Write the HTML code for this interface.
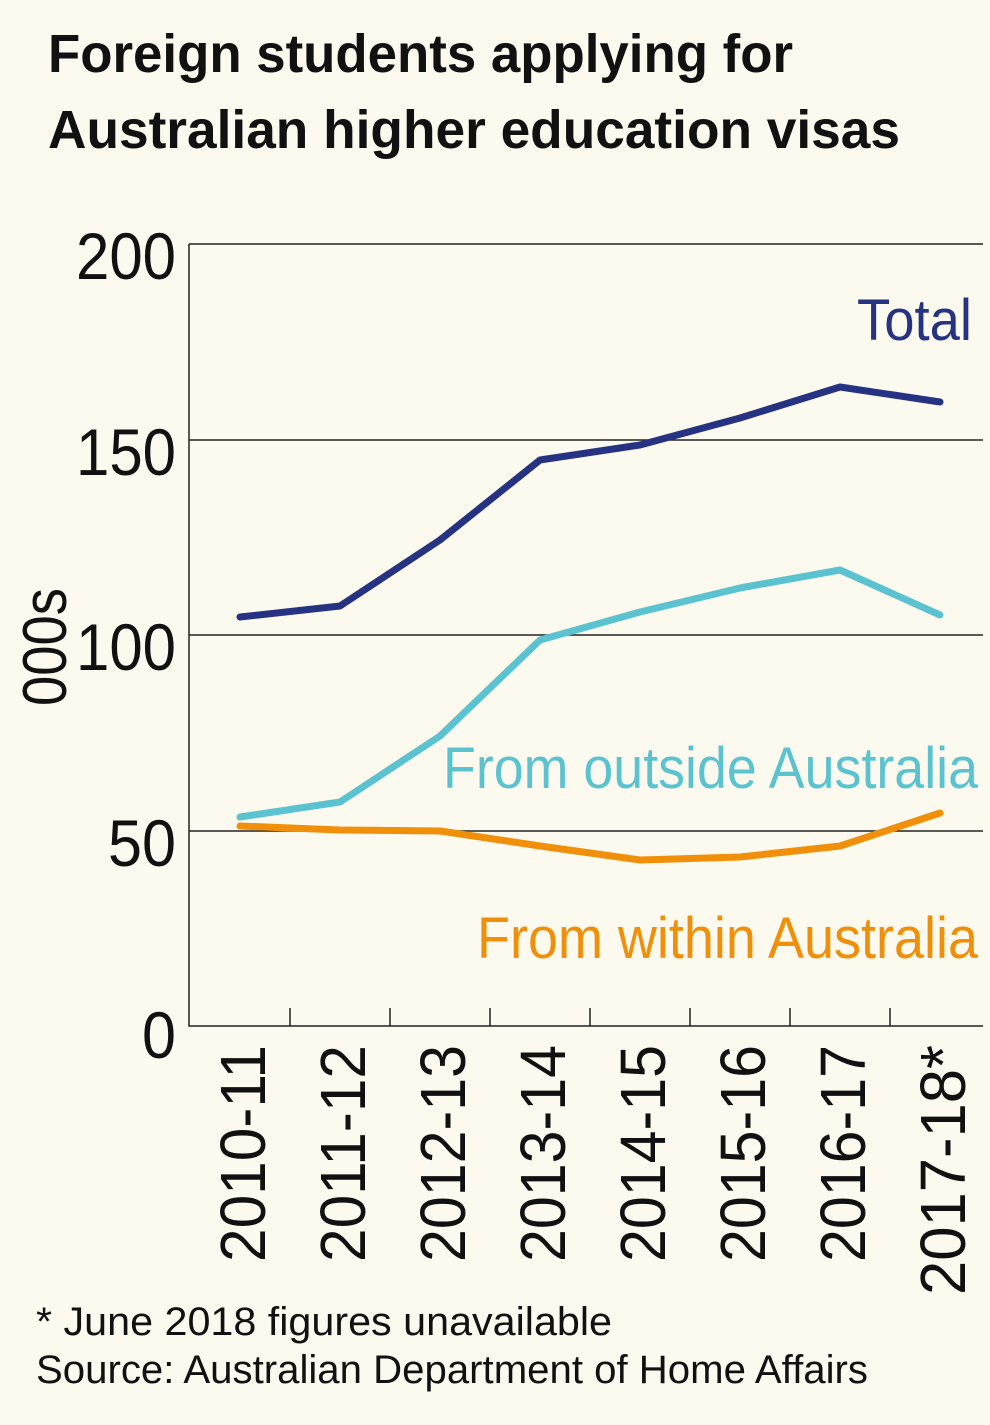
<!DOCTYPE html>
<html><head><meta charset="utf-8"><style>
html,body{margin:0;padding:0;background:#fcf9ef;}
svg{display:block}
text{font-family:"Liberation Sans",sans-serif;fill:#111}
</style></head><body>
<svg width="990" height="1425" viewBox="0 0 990 1425" xmlns="http://www.w3.org/2000/svg">
<rect width="990" height="1425" fill="#fcf9ef"/>
<text x="48" y="72" font-size="54" font-weight="bold" textLength="745" lengthAdjust="spacingAndGlyphs">Foreign students applying for</text>
<text x="48" y="148" font-size="54" font-weight="bold" textLength="852" lengthAdjust="spacingAndGlyphs">Australian higher education visas</text>
<g stroke="#222" stroke-width="1.5" fill="none">
<line x1="189" y1="244" x2="983" y2="244"/>
<line x1="189" y1="440" x2="983" y2="440"/>
<line x1="189" y1="635" x2="983" y2="635"/>
<line x1="189" y1="831" x2="983" y2="831"/>
<polyline points="189,244 189,1026 983,1026"/>
<line x1="290" y1="1008" x2="290" y2="1026"/>
<line x1="390" y1="1008" x2="390" y2="1026"/>
<line x1="490" y1="1008" x2="490" y2="1026"/>
<line x1="590" y1="1008" x2="590" y2="1026"/>
<line x1="690" y1="1008" x2="690" y2="1026"/>
<line x1="790" y1="1008" x2="790" y2="1026"/>
<line x1="890" y1="1008" x2="890" y2="1026"/>
</g>
<g font-size="66" text-anchor="end">
<text x="176" y="279" textLength="100" lengthAdjust="spacingAndGlyphs">200</text>
<text x="176" y="475" textLength="100" lengthAdjust="spacingAndGlyphs">150</text>
<text x="176" y="670" textLength="100" lengthAdjust="spacingAndGlyphs">100</text>
<text x="176" y="866" textLength="68" lengthAdjust="spacingAndGlyphs">50</text>
<text x="176" y="1058" textLength="34" lengthAdjust="spacingAndGlyphs">0</text>
</g>
<text transform="translate(66,647) rotate(-90)" font-size="62" text-anchor="middle" textLength="118" lengthAdjust="spacingAndGlyphs">000s</text>
<g font-size="64" text-anchor="end">
<text transform="translate(265,1045) rotate(-90)" textLength="217" lengthAdjust="spacingAndGlyphs">2010-11</text>
<text transform="translate(365,1045) rotate(-90)" textLength="217" lengthAdjust="spacingAndGlyphs">2011-12</text>
<text transform="translate(465,1045) rotate(-90)" textLength="217" lengthAdjust="spacingAndGlyphs">2012-13</text>
<text transform="translate(565,1045) rotate(-90)" textLength="217" lengthAdjust="spacingAndGlyphs">2013-14</text>
<text transform="translate(665,1045) rotate(-90)" textLength="217" lengthAdjust="spacingAndGlyphs">2014-15</text>
<text transform="translate(765,1045) rotate(-90)" textLength="217" lengthAdjust="spacingAndGlyphs">2015-16</text>
<text transform="translate(865,1045) rotate(-90)" textLength="217" lengthAdjust="spacingAndGlyphs">2016-17</text>
<text transform="translate(965,1045) rotate(-90)" textLength="250" lengthAdjust="spacingAndGlyphs">2017-18*</text>
</g>
<g fill="none" stroke-width="7" stroke-linejoin="round" stroke-linecap="round">
<polyline stroke="#263282" points="240,617 340,606 440,540 540,460 640,445 740,418 840,387 940,402"/>
<polyline stroke="#5bc3d0" points="240,817 340,802 440,736 540,640 640,612 740,588 840,570 940,615"/>
<polyline stroke="#f0900a" points="240,826 340,830 440,831 540,846 640,860 740,857 840,846 940,813"/>
</g>
<text x="857" y="340" font-size="58" style="fill:#263282" textLength="115" lengthAdjust="spacingAndGlyphs">Total</text>
<text x="443" y="788" font-size="58" style="fill:#5bc3d0" textLength="535" lengthAdjust="spacingAndGlyphs">From outside Australia</text>
<text x="477" y="958" font-size="58" style="fill:#f0900a" textLength="501" lengthAdjust="spacingAndGlyphs">From within Australia</text>
<text x="36" y="1335" font-size="40" textLength="576" lengthAdjust="spacingAndGlyphs">* June 2018 figures unavailable</text>
<text x="36" y="1383" font-size="40" textLength="832" lengthAdjust="spacingAndGlyphs">Source: Australian Department of Home Affairs</text>
</svg>
</body></html>
